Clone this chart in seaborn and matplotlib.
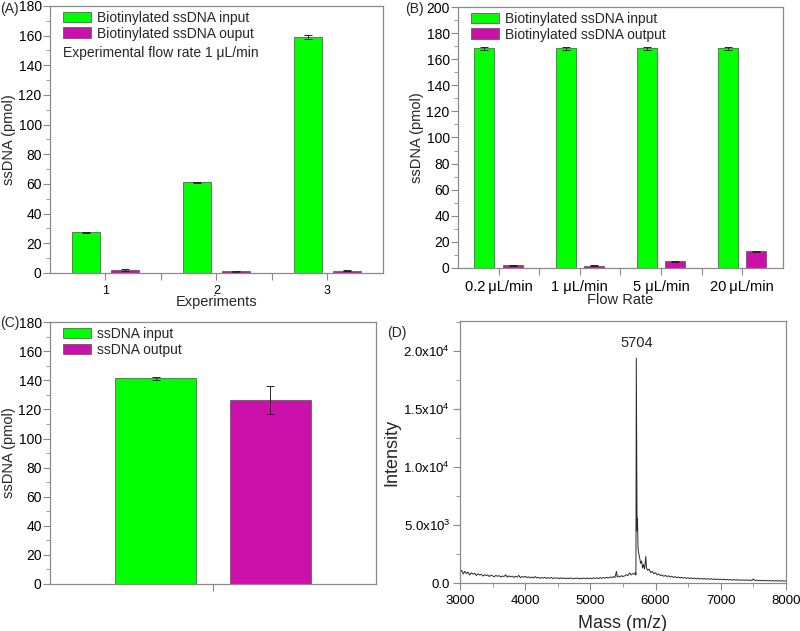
import numpy as np
import pandas as pd
import matplotlib
matplotlib.use('Agg')
import matplotlib.pyplot as plt
import seaborn as sns
from matplotlib.ticker import MultipleLocator, FixedLocator

GREEN = '#00ff00'
MAGENTA = '#cc11aa'
GRAY = '#8a8a8a'

# (A) experiments at 1 uL/min
exp_labels = ['1', '2', '3']
exp_input = [27.5, 61.0, 159.2]
exp_input_err = [0.4, 0.3, 1.2]
exp_output = [2.0, 1.0, 1.5]
exp_output_err = [0.4, 0.2, 0.3]

# (B) flow rates
flow_labels = ['0.2\u2009μL/min', '1 μL/min', '5 μL/min', '20\u2009μL/min']
flow_input = [168.5, 168.5, 168.5, 168.5]
flow_input_err = [1.2, 1.2, 1.2, 1.2]
flow_output = [2.0, 1.8, 5.0, 12.8]
flow_output_err = [0.6, 0.3, 0.4, 0.5]

# (C) ssDNA in / out
c_input = [141.5]
c_input_err = [1.0]
c_output = [126.5]
c_output_err = [9.5]

# (D) mass spectrum
mass = [3000, 3025, 3050, 3075, 3100, 3125, 3150, 3175, 3200, 3225, 3250, 3275, 3300, 3325, 3350,
        3375, 3400, 3425, 3450, 3475, 3500, 3525, 3550, 3575, 3600, 3625, 3650, 3675, 3700, 3725,
        3750, 3775, 3800, 3825, 3850, 3875, 3900, 3925, 3950, 3975, 4000, 4025, 4050, 4075, 4100,
        4125, 4150, 4175, 4200, 4225, 4250, 4275, 4300, 4325, 4350, 4375, 4400, 4425, 4450, 4475,
        4500, 4525, 4550, 4575, 4600, 4625, 4650, 4675, 4700, 4725, 4750, 4775, 4800, 4825, 4850,
        4875, 4900, 4925, 4950, 4975, 5000, 5025, 5050, 5075, 5100, 5125, 5150, 5175, 5200, 5225,
        5250, 5275, 5300, 5325, 5350, 5375, 5400, 5410, 5425, 5450, 5475, 5500, 5525, 5550, 5575,
        5600, 5625, 5650, 5675, 5690, 5698, 5704, 5710, 5716, 5722, 5730, 5740, 5755, 5770, 5785,
        5800, 5815, 5830, 5850, 5860, 5880, 5900, 5925, 5950, 5975, 6000, 6025, 6050, 6075, 6100,
        6125, 6150, 6175, 6200, 6225, 6250, 6275, 6300, 6325, 6350, 6375, 6400, 6425, 6450, 6475,
        6500, 6525, 6550, 6575, 6600, 6625, 6650, 6675, 6700, 6725, 6750, 6775, 6800, 6825, 6850,
        6875, 6900, 6925, 6950, 6975, 7000, 7025, 7050, 7075, 7100, 7125, 7150, 7175, 7200, 7225,
        7250, 7275, 7300, 7325, 7350, 7375, 7400, 7425, 7450, 7475, 7500, 7525, 7550, 7575, 7600,
        7625, 7650, 7675, 7700, 7725, 7750, 7775, 7800, 7825, 7850, 7875, 7900, 7925, 7950, 7975,
        8000]
intensity = [900, 1100, 780, 1000, 820, 940, 700, 880, 760, 850, 640, 800, 690, 760, 600,
             720, 640, 700, 560, 680, 620, 540, 660, 580, 640, 520, 600, 560, 720, 500,
             620, 540, 600, 480, 580, 520, 660, 470, 560, 500, 580, 470, 540, 440, 520,
             430, 560, 450, 500, 400, 480, 420, 500, 390, 470, 410, 480, 380, 460, 400,
             450, 370, 460, 390, 440, 360, 430, 380, 450, 360, 420, 380, 440, 350, 420,
             370, 430, 360, 450, 380, 440, 370, 450, 390, 460, 380, 470, 400, 480, 410,
             500, 430, 520, 460, 560, 480, 1000, 520, 620, 520, 640, 560, 620, 720, 640,
             880, 700, 820, 760, 900, 700, 19400, 11000, 4500, 5600, 3000, 2600, 2200, 1700, 1900,
             1300, 1600, 1200, 2300, 1300, 1100, 1200, 900, 1000, 800, 900, 700, 780, 640, 700,
             580, 660, 560, 620, 520, 580, 480, 560, 460, 520, 440, 500, 420, 480, 400,
             460, 380, 450, 370, 430, 360, 420, 350, 400, 340, 390, 330, 380, 320, 370,
             310, 360, 300, 350, 290, 340, 280, 330, 270, 320, 260, 310, 250, 300, 250,
             290, 240, 280, 230, 270, 230, 280, 220, 260, 210, 350, 210, 250, 200, 240,
             200, 230, 190, 230, 180, 220, 180, 220, 170, 210, 170, 210, 160, 200, 170,
             190]

sns.set_style('ticks')
plt.rcParams['font.family'] = ['Liberation Sans', 'DejaVu Sans']
plt.rcParams['mathtext.default'] = 'regular'
plt.rcParams['axes.edgecolor'] = GRAY
plt.rcParams['xtick.color'] = GRAY
plt.rcParams['ytick.color'] = GRAY
plt.rcParams['xtick.labelcolor'] = 'black'
plt.rcParams['ytick.labelcolor'] = 'black'
plt.rcParams['axes.linewidth'] = 0.9

fig = plt.figure(figsize=(8, 6.31), dpi=100)
axA = fig.add_axes([0.0625, 0.5674, 0.416, 0.4231])
axB = fig.add_axes([0.5725, 0.5753, 0.406, 0.4136])
axC = fig.add_axes([0.0625, 0.0745, 0.4075, 0.415])
axD = fig.add_axes([0.575, 0.076, 0.4075, 0.415])


def grouped_bars(ax, cats, ins, ins_err, outs, outs_err, names):
    df = pd.DataFrame({
        'cat': list(cats) * 2,
        'val': list(ins) + list(outs),
        'series': [names[0]] * len(cats) + [names[1]] * len(cats),
    })
    sns.barplot(data=df, x='cat', y='val', hue='series', palette=[GREEN, MAGENTA],
                width=0.7, gap=0.29, errorbar=None, edgecolor='#606060',
                linewidth=0.6, saturation=1, ax=ax)
    for cont, err in zip(ax.containers, [ins_err, outs_err]):
        xs = [p.get_x() + p.get_width() / 2 for p in cont.patches]
        hs = [p.get_height() for p in cont.patches]
        ax.errorbar(xs, hs, yerr=err, fmt='none', ecolor='#222222',
                    elinewidth=0.7, capsize=3, capthick=0.7)
    handles, labels = ax.get_legend_handles_labels()
    ax.legend(handles, labels, loc='upper left', frameon=False, fontsize=10,
              handlelength=2.0, handleheight=0.8, labelspacing=0.12,
              handletextpad=0.45, borderaxespad=0.0, borderpad=0.35,
              bbox_to_anchor=(0.025, 1.0))
    ax.yaxis.set_minor_locator(MultipleLocator(10))
    n = len(cats)
    if n > 1:
        ax.xaxis.set_minor_locator(FixedLocator([i + 0.5 for i in range(n - 1)]))
    ax.set_xlim(-0.5, n - 0.5)
    ax.tick_params(axis='y', labelsize=10, length=5, width=0.8, pad=1)
    ax.tick_params(axis='y', which='minor', length=3, width=0.6)
    ax.tick_params(axis='x', which='both', length=5, width=0.8)
    for s in ax.spines.values():
        s.set_color(GRAY)


grouped_bars(axA, exp_labels, exp_input, exp_input_err, exp_output, exp_output_err,
             ['Biotinylated ssDNA input', 'Biotinylated ssDNA ouput'])
axA.set_ylim(0, 180)
axA.set_yticks(range(0, 181, 20))
axA.tick_params(axis='x', labelsize=9)
axA.set_xlabel('Experiments', fontsize=10.5, labelpad=-1)
axA.set_ylabel('ssDNA (pmol)', fontsize=10.5, labelpad=2)
axA.text(0.04, 0.823, 'Experimental flow rate 1 μL/min', transform=axA.transAxes,
         fontsize=10, va='center')

grouped_bars(axB, flow_labels, flow_input, flow_input_err, flow_output, flow_output_err,
             ['Biotinylated ssDNA input', 'Biotinylated ssDNA output'])
axB.set_ylim(0, 200)
axB.set_yticks(range(0, 201, 20))
axB.tick_params(axis='x', labelsize=10.5, pad=4)
axB.set_xlabel('Flow Rate', fontsize=10.5, labelpad=-1)
axB.set_ylabel('ssDNA (pmol)', fontsize=10.5, labelpad=2)

grouped_bars(axC, [''], c_input, c_input_err, c_output, c_output_err,
             ['ssDNA input', 'ssDNA output'])
axC.set_ylim(0, 180)
axC.set_yticks(range(0, 181, 20))
axC.set_xlabel('')
axC.set_ylabel('ssDNA (pmol)', fontsize=10.5, labelpad=2)

sns.lineplot(x=mass, y=intensity, color='#2a2a2a', linewidth=0.7, ax=axD)
axD.set_xlim(3000, 8000)
axD.set_ylim(0, 22600)
axD.set_xticks(range(3000, 8001, 1000))
axD.xaxis.set_minor_locator(MultipleLocator(500))
axD.set_yticks([0, 5000, 10000, 15000, 20000])
axD.yaxis.set_minor_locator(MultipleLocator(2500))
axD.set_yticklabels(['0.0', '5.0x10$^3$', '1.0x10$^4$', '1.5x10$^4$', '2.0x10$^4$'])
axD.tick_params(axis='both', which='major', labelsize=9.5, length=5, width=0.8)
axD.tick_params(axis='y', which='major', pad=2)
axD.tick_params(axis='both', which='minor', length=3, width=0.6)
axD.set_xlabel('Mass (m/z)', fontsize=13, labelpad=6)
axD.set_ylabel('Intensity', fontsize=13, labelpad=2)
axD.text(5704, 20700, '5704', ha='center', va='center', fontsize=10.5)

fig.text(0.0, 1 - 9 / 631, '(A)', fontsize=10, va='center', ha='left')
fig.text(0.507, 1 - 9 / 631, '(B)', fontsize=10, va='center', ha='left')
fig.text(0.0, 1 - 323 / 631, '(C)', fontsize=10, va='center', ha='left')
fig.text(0.484, 1 - 333 / 631, '(D)', fontsize=10, va='center', ha='left')

fig.savefig('out.png', dpi=100)
